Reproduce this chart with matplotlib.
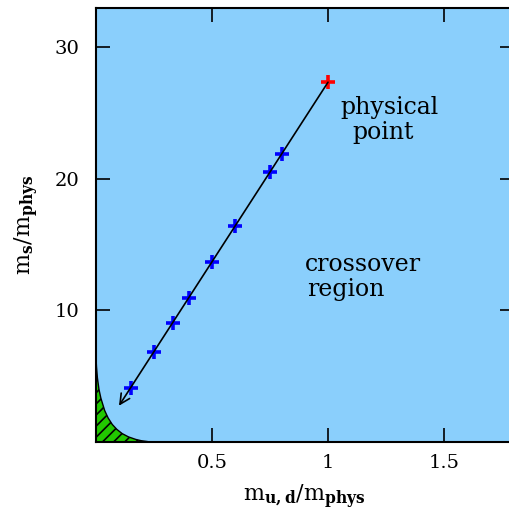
import matplotlib
matplotlib.use("Agg")
import matplotlib.pyplot as plt
import numpy as np

# data
mud_pts = [0.15, 0.25, 0.33, 0.40, 0.50, 0.60, 0.75, 0.80]
ms_pts = [4.10, 6.84, 9.00, 10.94, 13.68, 16.40, 20.50, 21.90]
phys_x, phys_y = 1.0, 27.35
arrow_tip = (0.099, 2.72)

# first-order region boundary
bnd_x = [0.0, 0.002, 0.006, 0.013, 0.021, 0.0375, 0.052, 0.070, 0.090, 0.113, 0.140, 0.171, 0.195, 0.220]
bnd_y = [6.4, 5.7, 4.85, 3.95, 3.3, 2.35, 1.8, 1.3, 0.92, 0.60, 0.35, 0.16, 0.06, 0.0]

xticks = [0.5, 1, 1.5]
xticklabels = ["0.5", "1", "1.5"]
yticks = [10, 20, 30]

plt.rcParams['font.family'] = ['DejaVu Serif']
plt.rcParams['mathtext.fontset'] = 'custom'
plt.rcParams['mathtext.rm'] = 'DejaVu Serif'
plt.rcParams['mathtext.bf'] = 'DejaVu Serif:bold'
plt.rcParams['hatch.linewidth'] = 1.2

fig = plt.figure(figsize=(5.10, 5.14), dpi=100)
ax = fig.add_axes([96/510, 1 - 441.5/514, 417.6/510, 433.5/514])
ax.set_xlim(0, 1.8)
ax.set_ylim(0, 33)
ax.set_facecolor('#8ACFFC')

# green hatched region
fx = bnd_x + [0.0]
fy = bnd_y + [0.0]
ax.fill(fx, fy, facecolor='#22C800', edgecolor='black', hatch='///', linewidth=0)
ax.plot(bnd_x, bnd_y, color='black', lw=1.0)

# line with arrow
ax.annotate('', xy=arrow_tip, xytext=(phys_x, phys_y),
            arrowprops=dict(arrowstyle='->', color='black', lw=1.2,
                            mutation_scale=18, shrinkA=0, shrinkB=0))

ax.plot(mud_pts, ms_pts, linestyle='none', marker='+', color='#0000FF',
        markersize=10, mew=2.6)
ax.plot([phys_x], [phys_y], linestyle='none', marker='+', color='#FF0000',
        markersize=10, mew=2.6)

ax.text(1.052, 24.96, "physical", ha='left', va='baseline', fontsize=17)
ax.text(1.103, 23.06, "point", ha='left', va='baseline', fontsize=17)
ax.text(0.901, 12.99, "crossover", ha='left', va='baseline', fontsize=17)
ax.text(0.909, 11.06, "region", ha='left', va='baseline', fontsize=17)

ax.set_xticks(xticks)
ax.set_xticklabels(xticklabels)
ax.set_yticks(yticks)
ax.tick_params(direction='in', length=10, width=1.2, top=True, right=True,
               labelsize=14)
ax.tick_params(axis='x', pad=9)
ax.tick_params(axis='y', pad=12)
for s in ax.spines.values():
    s.set_linewidth(1.5)

ax.set_xlabel(r'$\mathrm{m}_{\mathbf{u,d}}/\mathrm{m}_{\mathbf{phys}}$', fontsize=16, labelpad=8)
ax.set_ylabel(r'$\mathrm{m}_{\mathbf{s}}/\mathrm{m}_{\mathbf{phys}}$', fontsize=16, labelpad=10)

fig.savefig('out.png', dpi=100)
